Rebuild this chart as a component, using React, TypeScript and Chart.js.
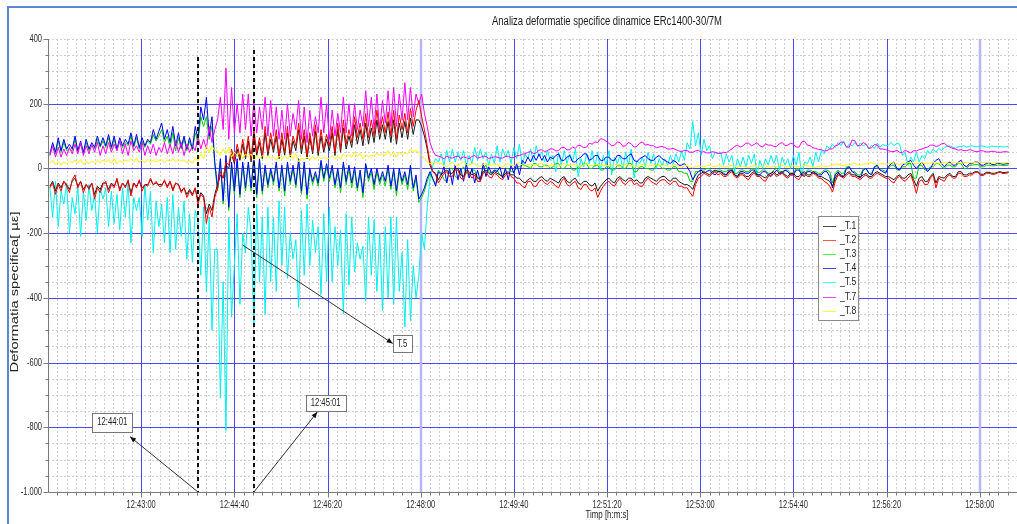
import { useEffect, useRef } from "react";
import { Chart, registerables } from "chart.js";
Chart.register(...registerables);

// ---------- data ----------
const TITLE = "Analiza deformatie specifice dinamice ERc1400-30/7M";
const X_TITLE = "Timp [h:m:s]";
const Y_TITLE = "Deformatia specifica[ µε]";

const START_TIME = "12:41:22"; // first sample
const STEP_SECONDS = 3; // sample interval
const X_RANGE = ["12:41:20", "12:58:40"];
const Y_RANGE = [-1000, 400];

const X_TICKS = ["12:43:00", "12:44:40", "12:46:20", "12:48:00", "12:49:40", "12:51:20", "12:53:00", "12:54:40", "12:56:20", "12:58:00"];
const Y_TICKS = [400, 200, 0, -200, -400, -600, -800, -1000];
const Y_TICK_LABELS = ["400", "200", "0", "-200", "-400", "-600", "-800", "-1.000"];

const SERIES = ["_T.1", "_T.2", "_T.3", "_T.4", "_T.5", "_T.7", "_T.8"];
const COLORS = ["#1a1a1a", "#ff0000", "#00d000", "#0000ff", "#00f0f0", "#ff00ff", "#ffff00"];
const LEGEND_COLORS = ["#505050", "#ff5050", "#40ff40", "#4040ff", "#40ffff", "#ff40ff", "#ffff40"];

// one row = one minute (20 samples)
const T1 = [
  -55, -40, -70, -45, -60, -40, -50, -65, -40, -30, -55, -40, -65, -50, -60, -45, -80, -55, -65, -45,
  -45, -65, -45, -55, -35, -65, -45, -55, -40, -75, -45, -55, -40, -60, -50, -50, -35, -50, -45, -50,
  -50, -40, -55, -40, -65, -45, -50, -70, -60, -80, -65, -80, -60, -100, -75, -85, -140, -110, -130, -80,
  -50, -20, -30, 10, 0, 45, 15, 60, 25, 75, 30, 85, 20, 100, 40, 80, 30, 110, 40, 90,
  50, 100, 30, 90, 40, 110, 35, 85, 55, 120, 45, 100, 30, 95, 45, 115, 40, 100, 50, 90,
  55, 110, 40, 120, 50, 125, 60, 100, 65, 135, 75, 120, 70, 140, 75, 125, 80, 150, 90, 135,
  90, 145, 80, 150, 75, 140, 95, 145, 90, 155, 105, 150, 150, 130, 100, 60, 10, -10, -15, -35,
  -20, -10, -5, -15, -15, 0, 0, -20, -25, -5, -10, -20, -15, -30, -30, -10, -5, -15, -20, -10,
  -15, -20, -25, -15, -10, -20, -20, -30, -30, -40, -45, -35, -30, -40, -40, -30, -25, -35, -40, -30,
  -35, -40, -45, -30, -25, -40, -45, -35, -30, -45, -50, -40, -40, -50, -55, -45, -70, -55, -45, -35,
  -30, -40, -45, -30, -25, -35, -40, -30, -30, -40, -35, -45, -45, -30, -25, -30, -35, -40, -30, -25,
  -25, -35, -40, -30, -30, -40, -45, -50, -50, -55, -65, -40, -20, -15, -10, -15, -20, -10, -5, -10,
  -10, -20, -20, -10, -5, -20, -25, -15, -15, -25, -25, -15, -10, -20, -20, -25, -30, -20, -15, -10,
  -20, -15, -10, -20, -25, -15, -15, -25, -25, -15, -10, -20, -20, -10, -15, -25, -25, -30, -35, -40,
  -55, -30, -15, -20, -25, -15, -10, -20, -20, -25, -25, -20, -15, -25, -25, -15, -10, -15, -20, -25,
  -25, -30, -35, -25, -20, -30, -30, -20, -15, -35, -55, -30, -25, -40, -40, -25, -15, -45, -25, -28,
  -30, -20, -15, -25, -25, -10, -10, -20, -20, -15, -15, -10, -10, -18, -18, -12, -12, -15, -15, -12,
  -10, -13, -12, -11,
];
const T2 = [
  -60, -45, -80, -50, -70, -40, -55, -75, -35, -20, -60, -40, -75, -50, -65, -45, -95, -60, -75, -50,
  -40, -75, -50, -60, -30, -70, -45, -60, -35, -85, -45, -60, -35, -70, -50, -55, -30, -50, -40, -55,
  -55, -35, -60, -40, -70, -45, -50, -75, -60, -90, -70, -85, -60, -110, -80, -90, -170, -120, -150, -90,
  -60, -10, -30, 20, 10, 60, 20, 75, 35, 90, 40, 100, 30, 120, 50, 95, 40, 130, 50, 110,
  60, 120, 40, 110, 50, 130, 45, 100, 70, 140, 60, 120, 40, 110, 55, 135, 50, 120, 60, 105,
  70, 130, 50, 140, 60, 150, 75, 120, 80, 160, 95, 140, 90, 170, 95, 150, 100, 180, 110, 160,
  110, 175, 100, 180, 90, 165, 120, 170, 110, 185, 130, 180, 210, 160, 120, 70, 20, -10, -20, -45,
  -30, -15, -10, -25, -25, -5, -5, -30, -35, -10, -15, -30, -20, -40, -40, -15, -10, -25, -30, -15,
  -20, -30, -35, -20, -15, -25, -30, -45, -45, -55, -60, -40, -40, -55, -55, -40, -35, -45, -50, -40,
  -45, -55, -60, -40, -30, -50, -55, -45, -40, -60, -65, -50, -50, -65, -70, -60, -90, -70, -55, -45,
  -40, -50, -55, -40, -30, -45, -50, -40, -35, -50, -45, -55, -55, -40, -30, -40, -45, -50, -40, -35,
  -35, -45, -50, -40, -40, -55, -55, -60, -60, -75, -86, -50, -30, -25, -15, -20, -25, -15, -10, -20,
  -15, -25, -25, -15, -10, -25, -30, -20, -20, -30, -35, -20, -15, -25, -25, -35, -40, -25, -20, -15,
  -25, -20, -15, -25, -30, -20, -20, -30, -35, -20, -15, -25, -25, -15, -20, -30, -30, -40, -45, -55,
  -73, -40, -20, -25, -30, -20, -15, -25, -25, -30, -35, -25, -20, -30, -30, -20, -15, -20, -25, -30,
  -30, -40, -45, -30, -25, -35, -40, -30, -20, -45, -77, -40, -35, -50, -50, -30, -20, -60, -30, -35,
  -40, -25, -20, -30, -30, -15, -15, -25, -25, -20, -20, -12, -12, -22, -22, -15, -15, -18, -18, -14,
  -12, -16, -15, -13,
];
const T3 = [
  40, 70, 45, 85, 50, 80, 55, 60, 55, 90, 50, 75, 45, 80, 55, 70, 60, 90, 65, 85,
  65, 95, 60, 90, 55, 85, 65, 80, 70, 100, 65, 95, 60, 85, 65, 85, 75, 105, 85, 100,
  120, 80, 100, 65, 110, 55, 95, 60, 90, 55, 85, 55, 110, 80, 160, 130, 160, 90, 130, 10,
  -70, 20, -110, 30, -130, 10, -80, 20, -90, 10, -70, 10, -70, 30, -90, 20, -80, 0, -60, -10,
  -50, 10, -70, 0, -85, 10, -50, 0, -60, 20, -80, 10, -95, -10, -50, -20, -55, 15, -40, 5,
  -40, 0, -60, -10, -75, 10, -50, 0, -60, -5, -70, -15, -90, 5, -40, -10, -65, -10, -50, -20,
  -55, 0, -65, -10, -85, -10, -50, -20, -65, 0, -70, -30, -105, -90, -70, -40, -15, -35, -50, -5,
  -15, -35, -40, 0, 0, -25, -30, -5, 5, -15, -20, -5, -5, -30, -35, 0, 10, -10, -15, -5,
  -5, -20, -25, 0, 0, -10, -10, 5, 5, 10, 10, 5, 0, 15, 15, 5, 5, 10, 10, 0,
  5, 15, 15, 0, 0, 10, 10, -5, -5, 5, 5, 15, 15, 0, 0, 10, 10, -5, -5, 5,
  5, -5, -5, 10, 10, 0, 0, 15, 15, -10, -10, 5, 5, 0, 0, -5, -5, 10, 10, 0,
  0, -5, -5, 5, 5, -10, -10, -15, -15, -40, -40, -10, -10, -5, -5, 0, 0, -10, -10, -5,
  -5, -10, -10, 0, 0, -15, -15, -5, -5, -10, -10, 0, 0, -12, -12, -5, -5, -15, -15, -5,
  0, -10, -10, -5, -5, -15, -15, 0, 0, -20, -20, -5, -5, -10, -10, -15, -15, -5, -5, -10,
  -45, -15, -5, -15, -15, 5, 5, -10, -10, -20, -20, 0, 0, -15, -15, 5, 5, -5, -5, -10,
  0, 10, 10, -5, -5, 5, 5, 15, 15, -30, -30, 10, 10, -5, -5, 5, 5, 15, 15, 5,
  0, 10, 10, 5, 5, 15, 15, 0, 0, 10, 10, 12, 12, 5, 5, 10, 10, 8, 8, 10,
  10, 9, 9, 10,
];
const T4 = [
  45, 80, 50, 95, 55, 90, 60, 75, 60, 100, 55, 85, 50, 90, 60, 80, 65, 100, 70, 95,
  70, 105, 65, 100, 60, 95, 70, 90, 75, 110, 70, 105, 65, 95, 70, 90, 80, 120, 90, 115,
  140, 90, 120, 80, 130, 70, 110, 65, 100, 60, 95, 60, 130, 90, 190, 150, 220, 100, 160, 20,
  -60, 30, -100, 40, -120, 20, -70, 30, -80, 20, -60, 20, -60, 40, -80, 30, -70, 10, -50, 0,
  -40, 20, -60, 10, -70, 20, -40, 10, -50, 30, -70, 20, -80, 0, -40, -10, -45, 25, -30, 15,
  -30, 10, -50, 0, -60, 20, -40, 10, -45, 5, -60, -5, -75, 15, -30, 0, -50, 0, -40, -10,
  -40, 10, -55, 0, -70, 0, -40, -10, -50, 10, -60, -20, -95, -80, -60, -30, -10, -30, -55, -10,
  -20, 5, -45, 0, -50, 10, -35, 0, -40, 15, -30, 0, -45, -5, -40, 15, -25, 5, -15, -5,
  -10, 5, -30, 0, -35, 10, -15, 15, -20, 25, 15, 35, 20, 40, 25, 45, 25, 40, 20, 35,
  30, 40, 45, 25, 25, 35, 40, 20, 20, 30, 35, 45, 45, 25, 30, 40, 40, 25, 25, 35,
  35, 25, 25, 40, 40, 30, 30, 40, 45, 25, 20, 30, 35, 40, 30, 25, 25, 35, 40, 30,
  25, 20, 15, 25, 20, 10, 10, 15, 5, -10, -35, -20, -10, -5, -15, -10, -5, -15, -20, -10,
  -10, -15, -20, -5, -5, -20, -25, -10, -10, -15, -15, -5, -5, -20, -20, -10, -10, -20, -25, -15,
  -5, -15, -15, -5, -10, -20, -20, -5, -5, -20, -25, -10, -10, -15, -15, -20, -20, -10, -10, -25,
  -60, -20, -10, -25, -25, 0, 5, -10, -15, -25, -30, -5, 0, -15, -20, 5, 10, -5, -10, -15,
  5, 15, 20, 0, -5, 10, 15, 20, 25, 10, 0, 10, 20, 5, -10, 0, 15, 25, 30, 15,
  5, 15, 20, 10, 10, 20, 25, 10, 5, 15, 15, 20, 20, 10, 10, 15, 18, 12, 12, 16,
  15, 13, 14, 15,
];
const T5 = [
  -60, -150, -40, -180, -70, -110, -45, -200, -90, -140, -55, -210, -70, -160, -50, -130, -80, -200, -60, -95,
  -60, -180, -70, -170, -80, -190, -60, -150, -40, -230, -90, -130, -90, -210, -50, -160, -70, -260, -100, -180,
  -110, -230, -90, -260, -80, -250, -120, -210, -100, -280, -140, -290, -130, -160, -330, -120, -380, -150, -500, -250,
  -250, -710, -350, -810, -150, -460, -300, -140, -420, -200, -260, -120, -200, -490, -110, -350, -150, -450, -120, -350,
  -150, -380, -100, -300, -120, -340, -200, -280, -220, -430, -130, -330, -110, -300, -160, -260, -180, -390, -140, -350,
  -120, -350, -180, -300, -190, -450, -140, -360, -150, -320, -230, -280, -240, -410, -150, -330, -160, -380, -200, -440,
  -180, -400, -150, -420, -150, -380, -260, -490, -220, -470, -300, -400, -330, -200, -250, -120, -30, 10, 30, 20,
  45, 10, 55, 20, 60, 20, 50, 25, 55, 5, 40, 15, 65, 25, 60, 30, 50, 10, 45, 15,
  70, 20, 60, 35, 55, 15, 65, 30, 75, 10, 45, 30, 60, 20, 70, 35, 50, 20, 55, 25,
  40, -10, 50, 10, 55, 15, 45, 20, 60, -25, 30, 5, 45, 15, 55, 5, 50, -5, 40, 10,
  55, -20, 35, 15, 40, 0, 50, 10, 60, -30, 25, 15, 35, 5, 50, 15, 45, 0, 30, 10,
  30, 10, 40, 15, 45, 20, 55, 25, 80, 60, 145, 70, 110, 40, 90, 55, 70, 30, 50, 45,
  50, 10, 45, 20, 40, -10, 30, 5, 35, 5, 40, 15, 45, -20, 25, 0, 30, 10, 40, 15,
  40, -5, 35, 10, 30, 0, 40, 10, 50, -25, 20, 15, 35, 5, 50, 20, 55, 45, 70, 60,
  75, 65, 80, 70, 85, 65, 75, 70, 80, 68, 78, 70, 75, 60, 72, 62, 78, 66, 74, 70,
  72, 80, 70, 78, 75, 40, 50, 10, 35, 20, 50, 20, 40, 30, 55, 45, 60, 50, 62, 55,
  65, 68, 70, 66, 62, 67, 68, 70, 66, 69, 70, 67, 67, 70, 69, 66, 66, 69, 68, 67,
  68, 66, 67, 68,
];
const T7 = [
  40, 70, 35, 65, 35, 60, 40, 65, 45, 75, 45, 80, 40, 70, 45, 75, 50, 80, 40, 70,
  45, 80, 50, 75, 55, 85, 45, 75, 40, 85, 55, 70, 50, 80, 40, 70, 45, 75, 40, 65,
  50, 80, 45, 75, 45, 85, 50, 80, 40, 75, 50, 70, 55, 100, 60, 90, 60, 130, 80, 120,
  150, 220, 120, 310, 90, 250, 110, 200, 110, 230, 120, 230, 100, 210, 110, 190, 120, 220, 100, 210,
  100, 190, 90, 180, 90, 200, 100, 170, 120, 210, 90, 190, 80, 180, 100, 160, 110, 220, 110, 200,
  90, 180, 100, 170, 110, 220, 110, 200, 100, 200, 120, 180, 130, 240, 130, 220, 120, 230, 120, 210,
  140, 240, 130, 250, 130, 230, 150, 265, 150, 250, 160, 230, 200, 230, 170, 130, 80, 55, 40, 38,
  35, 30, 38, 33, 32, 36, 38, 30, 36, 33, 30, 37, 40, 32, 34, 38, 37, 31, 33, 36,
  35, 32, 32, 37, 38, 33, 34, 39, 40, 44, 45, 50, 52, 46, 48, 56, 58, 52, 55, 60,
  60, 54, 55, 64, 65, 57, 58, 66, 62, 72, 70, 64, 66, 78, 75, 82, 80, 92, 90, 84,
  78, 70, 72, 82, 80, 68, 70, 80, 76, 66, 68, 78, 82, 72, 74, 70, 70, 64, 66, 68,
  65, 60, 60, 62, 58, 54, 52, 56, 55, 50, 50, 54, 56, 50, 52, 48, 48, 52, 50, 47,
  46, 50, 48, 55, 60, 68, 72, 66, 70, 78, 78, 70, 74, 80, 70, 66, 76, 72, 72, 68,
  68, 76, 80, 70, 72, 78, 75, 66, 66, 82, 84, 72, 70, 64, 62, 58, 58, 54, 55, 60,
  60, 70, 72, 82, 80, 66, 66, 88, 85, 70, 70, 80, 75, 62, 64, 74, 72, 60, 60, 58,
  55, 52, 52, 56, 50, 48, 56, 52, 48, 55, 54, 58, 60, 64, 66, 72, 72, 68, 70, 76,
  78, 70, 66, 62, 60, 56, 58, 55, 55, 58, 56, 52, 52, 55, 54, 51, 51, 53, 52, 50,
  50, 51, 52, 50,
];
const T8 = [
  15, 25, 12, 22, 10, 20, 14, 22, 18, 26, 16, 28, 12, 22, 14, 24, 16, 25, 18, 26,
  20, 28, 16, 30, 14, 24, 18, 26, 22, 30, 20, 32, 18, 26, 18, 28, 20, 26, 20, 24,
  28, 18, 26, 22, 30, 20, 28, 22, 26, 18, 24, 16, 32, 24, 45, 30, 70, 50, 70, 55,
  55, 40, 60, 45, 65, 35, 50, 40, 50, 30, 45, 35, 45, 25, 40, 30, 40, 30, 38, 32,
  35, 25, 38, 28, 40, 30, 42, 30, 45, 20, 32, 28, 35, 26, 36, 28, 38, 30, 34, 30,
  32, 40, 30, 38, 28, 45, 36, 42, 35, 50, 36, 46, 30, 42, 36, 40, 38, 48, 40, 46,
  40, 55, 40, 50, 35, 50, 42, 46, 45, 60, 52, 55, 50, 40, 30, 22, 15, 18, 20, 16,
  15, 8, 5, 14, 18, 10, 8, 16, 20, 12, 10, 15, 14, 8, 6, 12, 16, 10, 9, 14,
  12, 6, 4, 12, 15, 9, 8, 15, 18, 10, 6, 12, 14, 11, 10, 14, 16, 8, 5, 10,
  12, 8, 6, 12, 15, 10, 9, 12, 13, 8, 5, 12, 16, 10, 8, 11, 12, 10, 10, 9,
  8, 12, 14, 8, 6, 10, 12, 11, 10, 7, 5, 10, 13, 9, 7, 10, 11, 10, 9, 8,
  10, 7, 6, 10, 12, 6, 4, 8, 9, 4, 2, 6, 8, 6, 5, 8, 10, 7, 6, 8,
  8, 5, 4, 8, 10, 6, 5, 7, 7, 4, 3, 7, 9, 7, 6, 7, 8, 5, 4, 6,
  6, 9, 10, 6, 4, 7, 8, 6, 5, 8, 9, 8, 7, 4, 3, 6, 8, 7, 6, 8,
  10, 13, 14, 10, 8, 11, 12, 14, 16, 12, 10, 13, 14, 16, 18, 14, 12, 14, 15, 13,
  14, 17, 18, 14, 12, 15, 16, 18, 20, 16, 14, 17, 18, 16, 15, 17, 19, 17, 16, 15,
  18, 16, 15, 18, 20, 17, 16, 18, 19, 18, 17, 19, 20, 19, 18, 19, 19, 18, 17, 18,
  18, 17, 18, 18,
];
const VALUES = [T1, T2, T3, T4, T5, T7, T8];
// drawing order: lower = on top
const DRAW_ORDER = [2, 1, 5, 4, 6, 3, 0];

// vertical dashed markers
const MARKER_TIMES = ["12:44:01", "12:45:01"];
const MARKER_TOPS = [344, 366];

// callouts: box centre, arrow tip, arrow start (time, value)
const NOTE_TEXTS = ["12:44:01", "12:45:01", "T.5"];
const NOTE_BOX = [["12:42:29", -784], ["12:46:18", -725], ["12:47:40", -541]];
const NOTE_TIP = [["12:42:48", -829], ["12:46:09", -753], ["12:47:30", -541]];
const NOTE_FROM = [["12:44:01", -1000], ["12:45:01", -1000], ["12:44:49", -237]];
const NOTE_SIZE = [[40, 19], [40, 16], [19, 17]];

// ---------- helpers ----------
const sec = (s: string) => {
  const [h, m, ss] = s.split(":").map(Number);
  return (h - 12) * 3600 + m * 60 + ss;
};
const FONT = "'Liberation Sans', Arial, sans-serif";

function text(ctx: CanvasRenderingContext2D, t: string, x: number, y: number, size: number, align: CanvasTextAlign, sx: number, color = "#2a2a2a", rot = 0) {
  ctx.save();
  ctx.font = `${size}px ${FONT}`;
  ctx.fillStyle = color;
  ctx.textAlign = align;
  ctx.textBaseline = "middle";
  ctx.translate(x, y);
  if (rot) ctx.rotate(rot);
  ctx.scale(sx, 1);
  ctx.fillText(t, 0, 0);
  ctx.restore();
}
function fitScale(ctx: CanvasRenderingContext2D, t: string, size: number, target: number) {
  ctx.save();
  ctx.font = `${size}px ${FONT}`;
  const w = ctx.measureText(t).width;
  ctx.restore();
  return target / w;
}

const decor = {
  id: "decor",
  beforeDraw(chart: any) {
    const { ctx, width, height } = chart;
    ctx.save();
    ctx.fillStyle = "#ffffff";
    ctx.fillRect(0, 0, width, height);
    ctx.strokeStyle = "#5b86d3";
    ctx.lineWidth = 2;
    ctx.beginPath();
    ctx.moveTo(8, height);
    ctx.lineTo(8, 7);
    ctx.lineTo(width, 7);
    ctx.stroke();
    ctx.restore();
  },
  beforeDatasetsDraw(chart: any) {
    const { ctx, chartArea: a, scales } = chart;
    const xs = scales.x, ys = scales.y;
    const px = (v: number) => Math.round(xs.getPixelForValue(v)) + 0.5;
    const py = (v: number) => Math.round(ys.getPixelForValue(v)) + 0.5;
    const majorX = X_TICKS.map(sec);
    const x0 = sec(X_RANGE[0]), x1 = sec(X_RANGE[1]);
    const light = (lab: string) => lab === "12:48:00" || lab === "12:58:00";
    ctx.save();
    ctx.strokeStyle = "#cfcfcf";
    ctx.lineWidth = 1;
    ctx.setLineDash([2, 2]);
    ctx.beginPath();
    for (let t = x0 + 10; t < x1; t += 10) {
      if (majorX.includes(t)) continue;
      const x = px(t);
      ctx.moveTo(x, a.top);
      ctx.lineTo(x, a.bottom);
    }
    for (let v = Y_RANGE[0] + 50; v <= Y_RANGE[1]; v += 50) {
      if (v % 200 === 0 && v < Y_RANGE[1]) continue;
      const y = py(v);
      ctx.moveTo(a.left, y);
      ctx.lineTo(a.right, y);
    }
    ctx.stroke();
    ctx.setLineDash([]);
    ctx.strokeStyle = "#4a4af2";
    ctx.lineWidth = 1;
    ctx.beginPath();
    for (let v = Y_RANGE[0] + 200; v < Y_RANGE[1]; v += 200) {
      const y = py(v);
      ctx.moveTo(a.left, y);
      ctx.lineTo(a.right, y);
    }
    majorX.forEach((t, i) => {
      if (light(X_TICKS[i])) return;
      const x = px(t);
      ctx.moveTo(x, a.top);
      ctx.lineTo(x, a.bottom);
    });
    ctx.stroke();
    ctx.strokeStyle = "#b6b6f8";
    ctx.lineWidth = 2.5;
    ctx.beginPath();
    majorX.forEach((t, i) => {
      if (!light(X_TICKS[i])) return;
      const x = Math.round(xs.getPixelForValue(t));
      ctx.moveTo(x, a.top);
      ctx.lineTo(x, a.bottom);
    });
    ctx.stroke();
    ctx.strokeStyle = "#7a7a7a";
    ctx.lineWidth = 1;
    ctx.beginPath();
    const L = Math.round(a.left) + 0.5, B = Math.round(a.bottom) + 0.5;
    ctx.moveTo(L, a.top);
    ctx.lineTo(L, B);
    ctx.lineTo(a.right, B);
    for (let t = x0 + 10; t < x1; t += 10) {
      const x = px(t);
      ctx.moveTo(x, B);
      ctx.lineTo(x, B + (majorX.includes(t) ? 5 : 3));
    }
    for (let v = Y_RANGE[0]; v <= Y_RANGE[1]; v += 50) {
      const y = py(v);
      ctx.moveTo(L, y);
      ctx.lineTo(L - (v % 200 === 0 ? 5 : 3), y);
    }
    ctx.stroke();
    ctx.restore();
    X_TICKS.forEach((lab) => text(ctx, lab, xs.getPixelForValue(sec(lab)), 505, 11, "center", 0.68));
    Y_TICKS.forEach((v, i) => text(ctx, Y_TICK_LABELS[i], 42, ys.getPixelForValue(v), 11, "right", 0.68));
  },
  afterDatasetsDraw(chart: any) {
    const { ctx, chartArea: a, scales } = chart;
    const xs = scales.x, ys = scales.y;
    ctx.save();
    ctx.strokeStyle = "#111";
    ctx.lineWidth = 2;
    ctx.setLineDash([4, 3]);
    MARKER_TIMES.forEach((t, i) => {
      const x = Math.round(xs.getPixelForValue(sec(t)));
      ctx.beginPath();
      ctx.moveTo(x, ys.getPixelForValue(MARKER_TOPS[i]));
      ctx.lineTo(x, a.bottom);
      ctx.stroke();
    });
    ctx.setLineDash([]);
    NOTE_TEXTS.forEach((t, i) => {
      const fx = xs.getPixelForValue(sec(NOTE_FROM[i][0] as string));
      const fy = ys.getPixelForValue(NOTE_FROM[i][1] as number);
      const tx = xs.getPixelForValue(sec(NOTE_TIP[i][0] as string));
      const ty = ys.getPixelForValue(NOTE_TIP[i][1] as number);
      const bx = xs.getPixelForValue(sec(NOTE_BOX[i][0] as string));
      const by = ys.getPixelForValue(NOTE_BOX[i][1] as number);
      const [w, h] = NOTE_SIZE[i];
      ctx.strokeStyle = "#333";
      ctx.lineWidth = 1;
      ctx.beginPath();
      ctx.moveTo(fx, fy);
      ctx.lineTo(tx, ty);
      ctx.stroke();
      const ang = Math.atan2(ty - fy, tx - fx);
      ctx.fillStyle = "#111";
      ctx.beginPath();
      ctx.moveTo(tx, ty);
      ctx.lineTo(tx - 6 * Math.cos(ang) + 2.5 * Math.sin(ang), ty - 6 * Math.sin(ang) - 2.5 * Math.cos(ang));
      ctx.lineTo(tx - 6 * Math.cos(ang) - 2.5 * Math.sin(ang), ty - 6 * Math.sin(ang) + 2.5 * Math.cos(ang));
      ctx.closePath();
      ctx.fill();
      const rx = Math.round(bx - w / 2) + 0.5, ry = Math.round(by - h / 2) + 0.5;
      ctx.fillStyle = "#fff";
      ctx.fillRect(rx, ry, w, h);
      ctx.strokeStyle = "#777";
      ctx.strokeRect(rx, ry, w, h);
      text(ctx, t, bx, by, 11, "center", 0.7, "#222");
    });
    const lx = 818.5, ly = 216.5, lw = 40, lh = 104;
    ctx.fillStyle = "#fff";
    ctx.fillRect(lx, ly, lw, lh);
    ctx.strokeStyle = "#8a8a8a";
    ctx.lineWidth = 1;
    ctx.strokeRect(lx, ly, lw, lh);
    SERIES.forEach((s, i) => {
      const y = 226 + i * 14.1;
      ctx.strokeStyle = LEGEND_COLORS[i];
      ctx.beginPath();
      ctx.moveTo(823, Math.round(y) + 0.5);
      ctx.lineTo(836, Math.round(y) + 0.5);
      ctx.stroke();
      text(ctx, s, 840, y, 11, "left", 0.78, "#222");
    });
    ctx.restore();
    text(ctx, TITLE, 607, 22, 12, "center", fitScale(ctx, TITLE, 12, 230), "#1a1a1a");
    text(ctx, X_TITLE, 607, 515, 11, "center", fitScale(ctx, X_TITLE, 11, 43), "#222");
    text(ctx, Y_TITLE, 15, 292, 10, "center", fitScale(ctx, Y_TITLE, 10, 161), "#222", -Math.PI / 2);
  },
};

export default function App() {
  const ref = useRef<HTMLCanvasElement>(null);
  useEffect(() => {
    document.body.style.margin = "0";
    const canvas = ref.current!;
    const t0 = sec(START_TIME);
    const chart = new Chart(canvas, {
      type: "line",
      data: {
        datasets: SERIES.map((s, k) => ({
          label: s,
          data: VALUES[k].map((v, i) => ({ x: t0 + i * STEP_SECONDS, y: v })),
          borderColor: COLORS[k],
          borderWidth: 1,
          pointRadius: 0,
          fill: false,
          tension: 0,
          order: DRAW_ORDER[k],
        })),
      },
      options: {
        animation: false,
        responsive: false,
        events: [],
        layout: { padding: { left: 48, top: 39, right: 0, bottom: 32 } },
        scales: {
          x: { type: "linear", min: sec(X_RANGE[0]), max: sec(X_RANGE[1]), display: false },
          y: { type: "linear", min: Y_RANGE[0], max: Y_RANGE[1], display: false },
        },
        plugins: { legend: { display: false }, tooltip: { enabled: false } },
      },
      plugins: [decor],
    } as any);
    return () => chart.destroy();
  }, []);
  return <canvas ref={ref} width={1017} height={524} style={{ display: "block" }} />;
}
